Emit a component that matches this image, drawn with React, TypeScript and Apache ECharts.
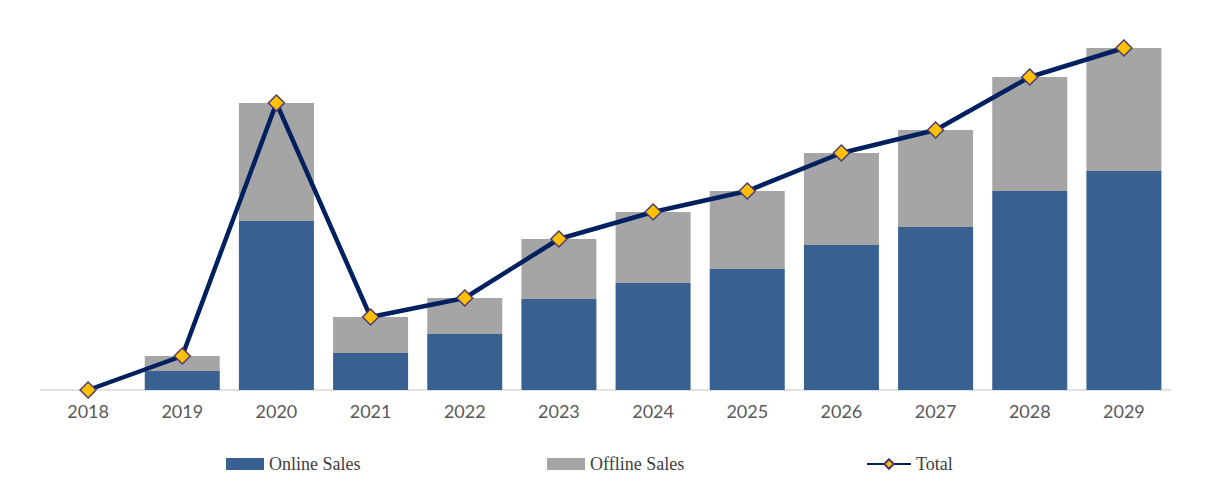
import React, { useEffect, useRef } from "react";
import * as echarts from "echarts";

const categories = ["2018", "2019", "2020", "2021", "2022", "2023", "2024", "2025", "2026", "2027", "2028", "2029"];
const onlineSales = [0, 19, 169, 37, 56, 91, 107, 121, 145, 163, 199, 219];
const offlineSales = [0, 15, 118, 36, 36, 60, 71, 78, 92, 97, 114, 123];
const totalSales = [0, 34, 287, 73, 92, 151, 178, 199, 237, 260, 313, 342];

export default function App() {
  const ref = useRef<HTMLDivElement>(null);
  useEffect(() => {
    if (!ref.current) return;
    const chart = echarts.init(ref.current, undefined, { renderer: "svg" });
    const legendText = { fontFamily: "Liberation Serif", fontSize: 18, color: "#404040" };
    const legendBase = {
      top: 442,
      itemWidth: 38,
      itemHeight: 12,
      itemGap: 4,
      textStyle: legendText,
      selectedMode: false,
    };
    chart.setOption({
      animation: false,
      backgroundColor: "#ffffff",
      grid: { left: 33, right: 35, top: 32, bottom: 105 },
      legend: [
        { ...legendBase, left: 213, data: [{ name: "Online Sales", icon: "rect" }] },
        { ...legendBase, left: 534, data: [{ name: "Offline Sales", icon: "rect" }] },
        { ...legendBase, left: 853, itemWidth: 44, data: [{ name: "Total" }] },
      ],
      xAxis: {
        type: "category",
        data: categories,
        axisLine: { show: true, lineStyle: { color: "#D9D9D9", width: 1.5 } },
        axisTick: { show: false },
        axisLabel: { fontFamily: "Lato", fontSize: 18, color: "#595959", margin: 12 },
      },
      yAxis: {
        type: "value",
        min: 0,
        max: 350,
        show: false,
        splitLine: { show: false },
      },
      series: [
        {
          name: "Online Sales",
          type: "bar",
          stack: "sales",
          data: onlineSales,
          barWidth: 75,
          itemStyle: { color: "#386192" },
        },
        {
          name: "Offline Sales",
          type: "bar",
          stack: "sales",
          data: offlineSales,
          barWidth: 75,
          itemStyle: { color: "#A5A5A5" },
        },
        {
          name: "Total",
          type: "line",
          data: totalSales,
          symbol: "diamond",
          symbolSize: 16,
          lineStyle: { color: "#002060", width: 4.5 },
          itemStyle: { color: "#FFC000", borderColor: "#4E3B6E", borderWidth: 1.5 },
          z: 5,
        },
      ],
    });
    return () => chart.dispose();
  }, []);
  return <div ref={ref} style={{ width: 1198, height: 487 }} />;
}
